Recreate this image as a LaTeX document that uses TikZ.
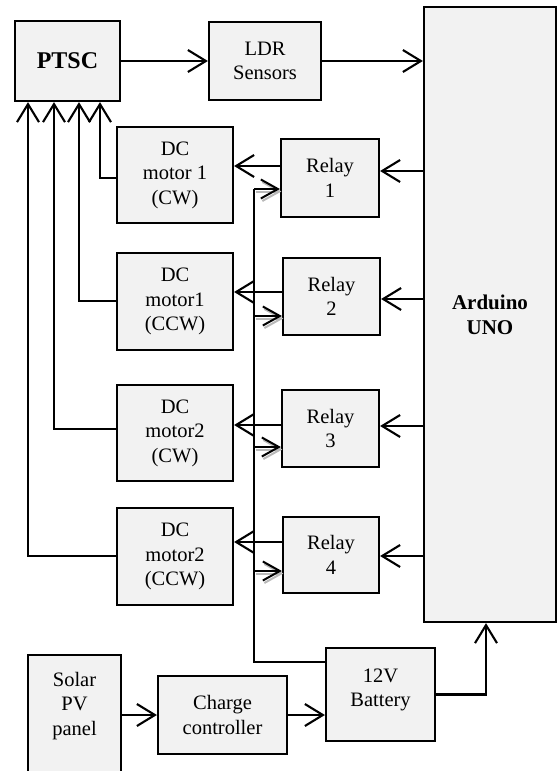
\documentclass[tikz,border=0pt]{standalone}
\usepackage{fontspec}
\setmainfont{Liberation Serif}
\usetikzlibrary{arrows.meta}
\definecolor{boxfill}{HTML}{F2F2F2}
\begin{document}
\begin{tikzpicture}[x=1pt,y=-1pt,
  txt/.style={font=\fontsize{20.5}{24.5}\selectfont},
  blk/.style={draw, fill=boxfill, line width=2.2pt, inner sep=0pt, align=center, txt},
  arr/.style={line width=2.1pt, -{Straight Barb[length=18pt,width=22pt]}},
  parr/.style={line width=2pt, -{Straight Barb[length=17pt,width=19pt]}},
  pshadow/.style={parr, draw=gray!55, transform canvas={shift={(1.5pt,-2.5pt)}}},
  pline/.style={line width=1.3pt}
]
\useasboundingbox (0,0) rectangle (557,771);

% blocks
\node[blk, minimum width=105pt, minimum height=80pt, font=\fontsize{24}{28}\selectfont\bfseries] (ptsc) at (67.5,61) {PTSC};
\node[blk, minimum width=112pt, minimum height=78pt] (ldr) at (265,61) {LDR\\Sensors};
\node[blk, minimum width=132pt, minimum height=615pt, font=\fontsize{21}{25}\selectfont\bfseries] (ard) at (490,314.5) {Arduino\\UNO};

\node[blk, minimum width=116pt, minimum height=96pt] (m1) at (175,175) {DC\\motor 1\\(CW)};
\node[blk, minimum width=116pt, minimum height=97pt] (m2) at (175,301.5) {DC\\motor1\\(CCW)};
\node[blk, minimum width=116pt, minimum height=96pt] (m3) at (175,433) {DC\\motor2\\(CW)};
\node[blk, minimum width=116pt, minimum height=97pt] (m4) at (175,556.5) {DC\\motor2\\(CCW)};

\node[blk, minimum width=98pt, minimum height=78pt] (r1) at (330,178) {Relay\\1};
\node[blk, minimum width=97pt, minimum height=77pt] (r2) at (331.5,296.5) {Relay\\2};
\node[blk, minimum width=97pt, minimum height=77pt] (r3) at (330.5,428.5) {Relay\\3};
\node[blk, minimum width=96pt, minimum height=76pt] (r4) at (331,555) {Relay\\4};

\begin{scope}
\clip (0,0) rectangle (557,771);
\node[blk, minimum width=93pt, minimum height=130pt,
  label={[txt, align=center, inner sep=0pt, anchor=north, yshift=-18pt]north:{Solar\\PV\\panel}}] (solar) at (74.5,720) {};
\end{scope}
\node[blk, minimum width=129pt, minimum height=78pt] (charge) at (222.5,715) {Charge\\controller};
\node[blk, minimum width=109pt, minimum height=93pt, text depth=14pt] (batt) at (380.5,694.5) {12V\\Battery};

% top row
\draw[arr] (ptsc.east) -- (ldr.west);
\draw[arr] (ldr.east) -- (ldr.east -| ard.west);

% Arduino -> relays
\coordinate (a1) at ([yshift=7pt]r1.east);
\coordinate (a2) at ([yshift=-2.5pt]r2.east);
\coordinate (a3) at ([yshift=2.5pt]r3.east);
\coordinate (a4) at ([yshift=-1pt]r4.east);
\foreach \i in {1,2,3,4} {
  \draw[arr] (a\i -| ard.west) -- (a\i);
}

% relays -> motors
\coordinate (b1) at ([yshift=12pt]r1.west);
\coordinate (b2) at ([yshift=4.5pt]r2.west);
\coordinate (b3) at ([yshift=3.5pt]r3.west);
\coordinate (b4) at ([yshift=13pt]r4.west);
\foreach \i in {1,2,3,4} {
  \draw[arr] (b\i) -- (b\i -| m\i.east);
}

% motors -> PTSC
\draw[arr] ([yshift=-3pt]m1.west) -| ([xshift=32.5pt]ptsc.south);
\draw[arr] ([yshift=0.5pt]m2.west) -| ([xshift=11.5pt]ptsc.south);
\draw[arr] ([yshift=4pt]m3.west) -| ([xshift=-13.5pt]ptsc.south);
\draw[arr] ([yshift=0.5pt]m4.west) -| ([xshift=-39.5pt]ptsc.south);

% power line from battery to relays
\coordinate (pv) at (254,189);
\coordinate (bt) at ([yshift=32.5pt]batt.west);
\draw[pline] (pv) |- (bt);
\coordinate (p1) at ([yshift=-11pt]r1.west);
\coordinate (p2) at ([yshift=-19.5pt]r2.west);
\coordinate (p3) at ([yshift=-18.5pt]r3.west);
\coordinate (p4) at ([yshift=-16pt]r4.west);
\foreach \i in {1,2,3,4} {
  \draw[pshadow] (pv |- p\i) -- (p\i);
  \draw[parr] (pv |- p\i) -- (p\i);
}

% bottom chain
\draw[arr] (solar.east |- charge.west) -- (charge.west);
\draw[arr] (charge.east) -- (charge.east -| batt.west);
\draw[arr] (batt.east) -| ([xshift=-4pt]ard.south);
\end{tikzpicture}
\end{document}
